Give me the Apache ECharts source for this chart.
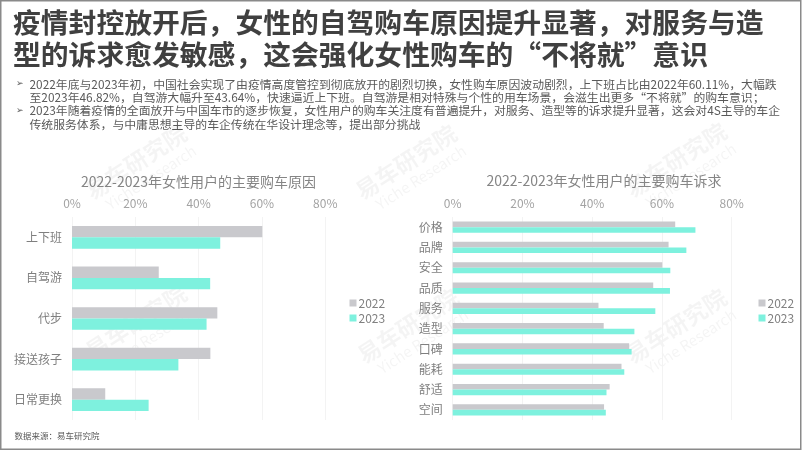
<!DOCTYPE html>
<html>
<head>
<meta charset="utf-8">
<script src="https://cdn.jsdelivr.net/npm/echarts@6/dist/echarts.min.js"></script>
<style>
html,body{margin:0;padding:0;background:#fff;}
#main{width:802px;height:451px;}
</style>
</head>
<body>
<div id="main"></div>
<script>
// ---- data ----
var reasonCats = ['上下班', '自驾游', '代步', '接送孩子', '日常更换'];
var reason2022 = [60.11, 27.4, 45.9, 43.7, 10.5];
var reason2023 = [46.82, 43.64, 42.5, 33.6, 24.2];

var demandCats = ['价格', '品牌', '安全', '品质', '服务', '造型', '口碑', '能耗', '舒适', '空间'];
var demand2022 = [63.8, 61.9, 60.1, 57.5, 41.8, 43.3, 50.6, 48.4, 45.0, 43.4];
var demand2023 = [69.6, 67.0, 62.4, 62.3, 58.1, 52.1, 51.3, 49.2, 44.1, 43.9];

var seriesNames = ['2022', '2023'];
var axisMin = 0, axisMax = 80, axisStep = 20;

var headline = ['疫情封控放开后，女性的自驾购车原因提升显著，对服务与造',
                '型的诉求愈发敏感，这会强化女性购车的“不将就”意识'];
var bulletLines = [
  '2022年底与2023年初，中国社会实现了由疫情高度管控到彻底放开的剧烈切换，女性购车原因波动剧烈，上下班占比由2022年60.11%，大幅跌',
  '至2023年46.82%，自驾游大幅升至43.64%，快速逼近上下班。自驾游是相对特殊与个性的用车场景，会滋生出更多“不将就”的购车意识；',
  '2023年随着疫情的全面放开与中国车市的逐步恢复，女性用户的购车关注度有普遍提升，对服务、造型等的诉求提升显著，这会对4S主导的车企',
  '传统服务体系，与中庸思想主导的车企传统在华设计理念等，提出部分挑战'
];
var chartTitles = ['2022-2023年女性用户的主要购车原因', '2022-2023年女性用户的主要购车诉求'];
var sourceText = '数据来源：易车研究院';

// ---- styles ----
var FONT = "'Noto Sans CJK SC', 'Noto Sans', sans-serif";
var C2022 = '#c9c9cd';
var C2023 = '#7ef1de';

var chart = echarts.init(document.getElementById('main'), null, {renderer: 'canvas'});

function xAx(gi) {
  return {
    gridIndex: gi, type: 'value', position: 'top', min: axisMin, max: axisMax, interval: axisStep,
    axisLine: {show: false}, axisTick: {show: false},
    axisLabel: {formatter: '{value}%', color: '#a3a3a3', fontSize: 12, fontFamily: FONT, margin: 8},
    splitLine: {show: true, lineStyle: {color: '#f3f3f3', width: 1}}
  };
}
function yAx(gi, cats) {
  return {
    gridIndex: gi, type: 'category', data: cats, inverse: true,
    axisLine: {show: false}, axisTick: {show: false},
    axisLabel: {color: '#7f7f7f', fontSize: 12, fontFamily: FONT, margin: 10},
    splitLine: {show: false}
  };
}

var graphics = [];
// watermarks
var wmPos = [[136, 162], [406, 162], [676, 160], [136, 322], [408, 326], [676, 326]];
wmPos.forEach(function (p) {
  graphics.push({
    type: 'group', x: p[0], y: p[1], rotation: 33 * Math.PI / 180, silent: true, z: 0,
    children: [
      {type: 'text', x: 0, y: 0, style: {text: '易车研究院', font: 'bold 23px ' + FONT, fill: 'rgba(0,0,0,0.042)', textAlign: 'center', textVerticalAlign: 'middle'}},
      {type: 'text', x: 4, y: 21, style: {text: 'Yiche Research', font: '15px ' + FONT, fill: 'rgba(0,0,0,0.042)', textAlign: 'center', textVerticalAlign: 'middle'}}
    ]
  });
});
// frame
graphics.push({type: 'rect', shape: {x: 0.75, y: 0.75, width: 800, height: 448.5}, style: {fill: 'none', stroke: '#8a8a8a', lineWidth: 1.5}, silent: true, z: 100});
// headline
graphics.push({type: 'text', x: 13, y: 22, style: {text: headline[0], font: 'bold 27.8px ' + FONT, fill: '#404040', textVerticalAlign: 'middle'}});
graphics.push({type: 'text', x: 13, y: 54.5, style: {text: headline[1], font: 'bold 27.8px ' + FONT, fill: '#404040', textVerticalAlign: 'middle'}});
// bullets
var bulletY = [84, 97.3, 110.7, 124];
bulletLines.forEach(function (t, i) {
  graphics.push({type: 'text', x: 29.5, y: bulletY[i], style: {text: t, font: '11.85px ' + FONT, fill: '#595959', textVerticalAlign: 'middle'}});
});
[0, 2].forEach(function (i) {
  graphics.push({type: 'text', x: 16, y: bulletY[i], style: {text: '➢', font: '9px DejaVu Sans', fill: '#595959', textVerticalAlign: 'middle'}});
});
// chart titles
graphics.push({type: 'text', x: 198.5, y: 181.5, style: {text: chartTitles[0], font: '14px ' + FONT, fill: '#858585', textAlign: 'center', textVerticalAlign: 'middle'}});
graphics.push({type: 'text', x: 604, y: 181, style: {text: chartTitles[1], font: '14px ' + FONT, fill: '#858585', textAlign: 'center', textVerticalAlign: 'middle'}});
// source
graphics.push({type: 'text', x: 14.5, y: 435.5, style: {text: sourceText, font: '8.5px ' + FONT, fill: '#595959', textVerticalAlign: 'middle'}});

function legendCfg(left) {
  return {
    data: seriesNames, orient: 'vertical', left: left, top: 292, itemWidth: 7, itemHeight: 7,
    itemGap: 3, icon: 'rect', selectedMode: false,
    textStyle: {color: '#808080', fontSize: 12, fontFamily: FONT, lineHeight: 12, padding: [0, 0, 0, -3]}
  };
}

var option = {
  animation: false,
  backgroundColor: '#ffffff',
  color: [C2022, C2023],
  grid: [
    {left: 72, top: 217, width: 253.3, height: 203, containLabel: false},
    {left: 452.7, top: 217, width: 279, height: 203, containLabel: false}
  ],
  xAxis: [xAx(0), xAx(1)],
  yAxis: [yAx(0, reasonCats), yAx(1, demandCats)],
  legend: [legendCfg(344.5), legendCfg(753.5)],
  series: [
    {name: seriesNames[0], type: 'bar', xAxisIndex: 0, yAxisIndex: 0, data: reason2022, barGap: '0%', barCategoryGap: '44%', itemStyle: {color: C2022}, z: 5},
    {name: seriesNames[1], type: 'bar', xAxisIndex: 0, yAxisIndex: 0, data: reason2023, barGap: '0%', barCategoryGap: '44%', itemStyle: {color: C2023}, z: 5},
    {name: seriesNames[0], type: 'bar', xAxisIndex: 1, yAxisIndex: 1, data: demand2022, barGap: '0%', barCategoryGap: '45%', itemStyle: {color: C2022}, z: 5},
    {name: seriesNames[1], type: 'bar', xAxisIndex: 1, yAxisIndex: 1, data: demand2023, barGap: '0%', barCategoryGap: '45%', itemStyle: {color: C2023}, z: 5}
  ],
  graphic: graphics
};
chart.setOption(option);
</script>
</body>
</html>
